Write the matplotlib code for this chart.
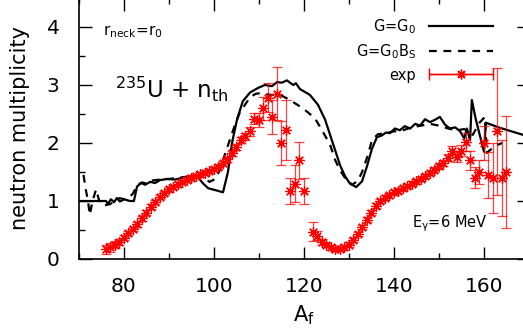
import numpy as np
import matplotlib
matplotlib.use('Agg')
import matplotlib.pyplot as plt
from matplotlib.container import ErrorbarContainer
from matplotlib.legend_handler import HandlerErrorbar

plt.rcParams['font.family'] = ['DejaVu Sans']
plt.rcParams['mathtext.default'] = 'regular'

# calculation, G = G0 (solid)
a_g0 = [70, 76, 76.4, 77.1, 77.8, 78.4, 79.1, 80, 81.3, 82.2, 82.9, 83.8, 84.7, 85.8,
        86.9, 88, 89.6, 91.3, 93.1, 94.7, 96.2, 97.6, 98.7, 100.2, 102, 103.1, 104,
        105.1, 106.4, 108, 109.8, 111.3, 112.9, 114, 115.1, 116.2, 117.6, 118.2, 119.1,
        120.2, 121.3, 123.1, 124.7, 125.8, 126.9, 128, 129.1, 130.2, 131.6, 132.9, 134,
        135.1, 136.2, 137.3, 138.2, 139.1, 140.2, 141.3, 142.4, 143.6, 144.7, 145.8,
        146.9, 148, 149.1, 150.2, 151.3, 152.4, 153.6, 154.7, 155.6, 156.2, 156.9,
        157.3, 158.2, 160, 160.4, 163.6, 168.7, 170]
nu_g0 = [1.0, 1.0, 0.95, 1.03, 0.98, 1.05, 0.99, 1.03, 1.0, 1.0, 1.25, 1.31, 1.28, 1.33,
         1.31, 1.36, 1.38, 1.37, 1.40, 1.42, 1.43, 1.30, 1.22, 1.19, 1.15, 1.50, 2.0,
         2.4, 2.72, 2.87, 2.95, 3.0, 2.98, 3.05, 3.04, 3.08, 3.0, 3.03, 2.93,
         2.88, 2.83, 2.66, 2.4, 2.14, 1.88, 1.62, 1.43, 1.30, 1.24, 1.34, 1.6,
         1.9, 2.1, 2.13, 2.18, 2.17, 2.25, 2.22, 2.29, 2.25, 2.33, 2.30,
         2.41, 2.36, 2.40, 2.45, 2.32, 2.25, 2.27, 2.20, 2.08, 2.25, 2.05,
         2.74, 2.40, 1.85, 2.35, 2.26, 2.14, 2.10]

# calculation, G = G0*Bs (dashed)
a_bs = [71, 71.5, 72, 72.4, 73, 73.8, 74.5, 75.5, 77, 78, 79, 80, 81, 82, 83, 84, 85, 86,
        88, 90, 92, 94, 96, 97.5, 99, 100.3, 101.3, 102.4, 103.5, 104.6, 105.7, 106.9,
        108, 109.3, 110.7, 112.4, 114.7, 116.9, 118.7, 120.2, 122.4, 124, 125.8, 126.9,
        128, 129.1, 130.7, 132, 132.9, 134.2, 135.1, 136.4, 138, 140, 142, 144, 146,
        148, 150, 152, 154, 155.6, 156.5, 157.5, 159, 160.2, 160.6, 162.5, 164]
nu_bs = [1.45, 1.2, 1.0, 0.76, 1.0, 1.2, 1.0, 0.92, 0.95, 1.0, 1.05, 1.03, 1.05, 1.13,
         1.28, 1.32, 1.30, 1.35, 1.37, 1.38, 1.40, 1.42, 1.45, 1.42, 1.33, 1.38, 1.53,
         1.8, 2.05, 2.3, 2.52, 2.66, 2.79, 2.85, 2.86, 2.83, 2.83, 2.74, 2.65, 2.57,
         2.43, 2.22, 1.97, 1.71, 1.53, 1.40, 1.28, 1.35, 1.5, 1.79, 2.05, 2.15, 2.17,
         2.2, 2.22, 2.27, 2.3, 2.33, 2.3, 2.25, 2.22, 2.24, 2.2, 2.14, 2.35, 2.45,
         1.83, 1.95, 2.0]

# experiment
a_exp = [76, 77, 78, 79, 80, 81, 82, 83, 84, 85, 86, 87, 88, 89, 90, 91, 92, 93, 94, 95,
         96, 97, 98, 99, 100, 101, 102, 103, 104, 105, 106, 107, 108,
         109, 110, 111, 112, 113, 114, 115, 116, 117, 118, 119, 120,
         122, 123, 124, 125, 126, 127, 128, 129, 130, 131, 132, 133, 134, 135, 136,
         137, 138, 139, 140, 141, 142, 143, 144, 145, 146, 147, 148, 149, 150, 151,
         152, 153, 154, 155, 156, 157, 158, 159, 160, 161, 162, 163, 164, 165]
nu_exp = [0.17, 0.2, 0.25, 0.3, 0.37, 0.45, 0.52, 0.6, 0.7, 0.8, 0.9, 0.98, 1.07, 1.14,
          1.2, 1.24, 1.29, 1.33, 1.37, 1.4, 1.43, 1.46, 1.49, 1.52, 1.55, 1.59, 1.65,
          1.72, 1.82, 1.93, 2.05, 2.12, 2.2,
          2.42, 2.4, 2.6, 2.78, 2.45, 2.85, 2.0, 2.22, 1.17, 1.3, 1.7, 1.17,
          0.47, 0.4, 0.3, 0.24, 0.2, 0.17, 0.17, 0.2, 0.25, 0.33, 0.43, 0.55, 0.68,
          0.8, 0.92, 1.0, 1.06, 1.1, 1.15, 1.18, 1.22, 1.26, 1.3, 1.34, 1.38, 1.43,
          1.48, 1.54, 1.6, 1.66, 1.75, 1.87, 1.76, 1.87, 2.02, 1.7, 1.4, 1.5, 2.0,
          1.45, 1.4, 2.2, 1.4, 1.5]
err_exp = [0.08, 0.08, 0.06, 0.05, 0.05, 0.04, 0.04, 0.04, 0.04, 0.04, 0.04, 0.04, 0.04,
           0.04, 0.04, 0.04, 0.04, 0.04, 0.04, 0.04, 0.04, 0.04, 0.04, 0.04, 0.04, 0.04,
           0.04, 0.04, 0.04, 0.05, 0.05, 0.06, 0.08,
           0.1, 0.12, 0.2, 0.25, 0.3, 0.46, 0.38, 0.52, 0.22, 0.32, 0.32, 0.22,
           0.16, 0.08, 0.05, 0.04, 0.04, 0.04, 0.04, 0.04, 0.04, 0.04, 0.04, 0.04, 0.04,
           0.04, 0.04, 0.04, 0.04, 0.04, 0.04, 0.04, 0.04, 0.04, 0.04, 0.04, 0.04, 0.04,
           0.04, 0.04, 0.04, 0.05, 0.06, 0.08, 0.08, 0.1, 0.15, 0.17, 0.18, 0.2, 0.3,
           0.4, 0.6, 1.1, 0.65, 0.97]

fig = plt.figure(figsize=(5.23, 3.29), dpi=100)
ax = fig.add_axes([79 / 523, 70 / 329, 450 / 523, 261 / 329])

ax.plot(a_g0, nu_g0, color='black', lw=1.6, label='G=G$_0$')
ax.plot(a_bs, nu_bs, color='black', lw=1.6, ls=(0, (3.5, 3)), label='G=G$_0$B$_S$')
ax.errorbar(a_exp, nu_exp, yerr=err_exp, fmt='none', ecolor='red', elinewidth=0.9,
            capsize=3.5, capthick=0.9, alpha=0.75)
ax.plot(a_exp, nu_exp, ls='none', marker=(8, 2, 0), ms=7.5, mew=0.9, color='red')

# proxy for the gnuplot style legend entry (horizontal bar)
proxy = ax.errorbar([np.nan], [np.nan], xerr=[np.nan], color='red', lw=1,
                    marker=(8, 2, 0), ms=7, mew=1, capsize=4, label='exp')

ax.set_xlim(70, 170)
ax.set_ylim(0, 4.5)
ax.set_xticks([80, 100, 120, 140, 160])
ax.set_xticks([70, 90, 110, 130, 150, 170], minor=True)
ax.set_yticks([0, 1, 2, 3, 4])
ax.set_yticks([0.5, 1.5, 2.5, 3.5], minor=True)
ax.tick_params(which='both', direction='in', top=True, right=True, width=1,
               labelsize=14.5)
ax.tick_params(axis='x', which='both', pad=13)
ax.tick_params(axis='y', which='both', pad=14)
ax.tick_params(which='major', length=9)
ax.tick_params(which='minor', length=4.5)
for s in ax.spines.values():
    s.set_linewidth(1.2)

ax.set_xlabel('A$_f$', fontsize=15, labelpad=5)
ax.set_ylabel('neutron multiplicity', fontsize=15, labelpad=12)

ax.text(75.3, 3.86, 'r$_{neck}$=r$_0$', fontsize=11, va='baseline')
ax.text(78, 2.78, '$^{235}$U + n$_{th}$', fontsize=16.5, va='baseline')
ax.text(144, 0.55, 'E$_\\gamma$=6 MeV', fontsize=10.5, va='baseline')

handles, labels = ax.get_legend_handles_labels()
leg = ax.legend(handles, labels, loc='upper right', markerfirst=False, frameon=False,
                fontsize=10.5, handlelength=4.4, handletextpad=0.9, labelspacing=0.45,
                borderpad=0, borderaxespad=0,
                bbox_to_anchor=(493 / 523, 1 - 17 / 329), bbox_transform=fig.transFigure,
                handler_map={ErrorbarContainer: HandlerErrorbar(xerr_size=2.2, numpoints=1)})

fig.savefig('out.png', dpi=100)
